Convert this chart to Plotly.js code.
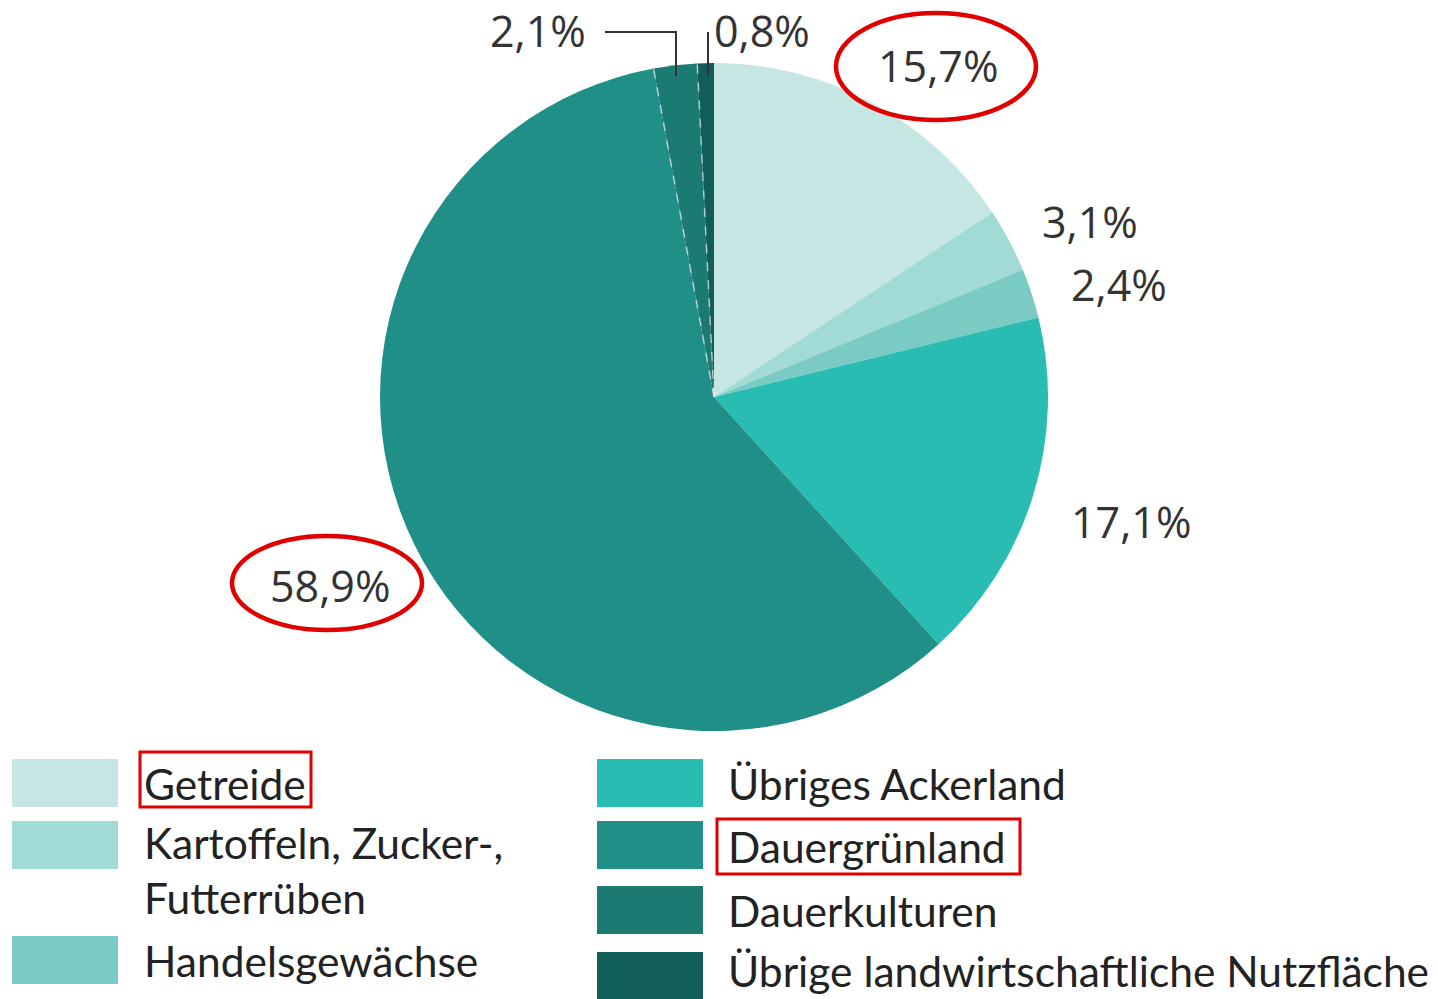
<!DOCTYPE html>
<html>
<head>
<meta charset="utf-8">
<script src="https://cdn.plot.ly/plotly-3.0.1.min.js"></script>
<style>html,body{margin:0;padding:0;background:#fff;}#chart{width:1438px;height:999px;}</style>
</head>
<body>
<div id="chart"></div>
<script>
// ---- data ----
var categories = ["Getreide", "Kartoffeln, Zucker-,<br>Futterrüben", "Handelsgewächse",
  "Übriges Ackerland", "Dauergrünland", "Dauerkulturen", "Übrige landwirtschaftliche Nutzfläche"];
var shares = [15.7, 3.1, 2.4, 17.1, 58.9, 2.1, 0.8];
var colors = ["#c6e6e3", "#a2dad5", "#79cbc3", "#28bcb2", "#208f87", "#1b7a72", "#115e58"];

// ---- layout constants ----
var W = 1438, H = 999;
var cx = 714, cy = 397, R = 334;
function px(x){ return x / W; }
function py(y){ return 1 - y / H; }
function fmt(v){ return v.toFixed(1).replace('.', ',') + '%'; }

var labelFont = {family: "Open Sans, DejaVu Sans, sans-serif", size: 43, color: "#333333"};
var legendFont = {family: "Lato, Open Sans, sans-serif", size: 42.5, color: "#222222"};

// label positions (pixel centers) for each slice's percentage
var labelPos = [[938, 66], [1090, 221], [1119, 284], [1131, 521], [330, 585], [538, 31], [762, 31]];

var annotations = [];
var shapes = [];
shares.forEach(function(v, i){
  annotations.push({xref:'paper', yref:'paper', x: px(labelPos[i][0]), y: py(labelPos[i][1]),
    text: fmt(v), showarrow:false, font: labelFont, xanchor:'center', yanchor:'middle', borderpad:0});
});

// leader lines
shapes.push({type:'path', xref:'paper', yref:'paper',
  path: 'M ' + px(605) + ' ' + py(32) + ' L ' + px(676) + ' ' + py(32) + ' L ' + px(676) + ' ' + py(76),
  line:{color:'#333333', width:2}});
shapes.push({type:'line', xref:'paper', yref:'paper', x0: px(708), y0: py(32), x1: px(708), y1: py(76),
  line:{color:'#333333', width:2}});

// dashed white separators between the last three slices (computed from data)
var total = shares.reduce(function(a,b){return a+b;}, 0);
var cum = 0;
shares.forEach(function(v, i){
  cum += v;
  if (i === 4 || i === 5) {
    var ang = cum / total * 2 * Math.PI;
    var ex = cx + R * Math.sin(ang), ey = cy - R * Math.cos(ang);
    shapes.push({type:'line', xref:'paper', yref:'paper', x0: px(cx), y0: py(cy), x1: px(ex), y1: py(ey),
      line:{color:'rgba(255,255,255,0.6)', width:1.5, dash:'dash'}});
  }
});

// red ellipses around highlighted labels
shapes.push({type:'circle', xref:'paper', yref:'paper', x0: px(836), x1: px(1036), y0: py(120), y1: py(13),
  line:{color:'#e00000', width:4.5}});
shapes.push({type:'circle', xref:'paper', yref:'paper', x0: px(232), x1: px(422), y0: py(630), y1: py(536),
  line:{color:'#e00000', width:4.5}});

// custom legend
var legendRows = [
  {sx: 12, sy: 759, tx: 143, ty: 783},
  {sx: 12, sy: 821, tx: 143, ty: 870},
  {sx: 12, sy: 936, tx: 143, ty: 960},
  {sx: 597, sy: 759, tx: 727, ty: 783},
  {sx: 597, sy: 821, tx: 727, ty: 846},
  {sx: 597, sy: 886, tx: 727, ty: 910},
  {sx: 597, sy: 952, tx: 727, ty: 970}
];
categories.forEach(function(c, i){
  var r = legendRows[i];
  shapes.push({type:'rect', xref:'paper', yref:'paper', x0: px(r.sx), x1: px(r.sx + 106), y0: py(r.sy + 48), y1: py(r.sy),
    fillcolor: colors[i], line:{width:0}});
  annotations.push({xref:'paper', yref:'paper', x: px(r.tx), y: py(r.ty), text: c, showarrow:false,
    font: legendFont, xanchor:'left', yanchor:'middle', align:'left', borderpad:0});
});
// red boxes around highlighted legend entries
shapes.push({type:'rect', xref:'paper', yref:'paper', x0: px(140), x1: px(311), y0: py(807), y1: py(752),
  line:{color:'#e00000', width:3}});
shapes.push({type:'rect', xref:'paper', yref:'paper', x0: px(717), x1: px(1020), y0: py(874), y1: py(819),
  line:{color:'#e00000', width:3}});

var trace = {
  type: 'pie',
  labels: categories,
  values: shares,
  sort: false,
  direction: 'clockwise',
  rotation: 0,
  textinfo: 'none',
  hoverinfo: 'label+percent',
  marker: {colors: colors, line: {width: 0}},
  showlegend: false,
  domain: {x: [px(cx - R), px(cx + R)], y: [py(cy + R), py(cy - R)]}
};

var layout = {
  width: W, height: H,
  margin: {l:0, r:0, t:0, b:0},
  paper_bgcolor: '#ffffff',
  showlegend: false,
  annotations: annotations,
  shapes: shapes
};

Plotly.newPlot('chart', [trace], layout, {displayModeBar:false, staticPlot:true});
</script>
</body>
</html>
